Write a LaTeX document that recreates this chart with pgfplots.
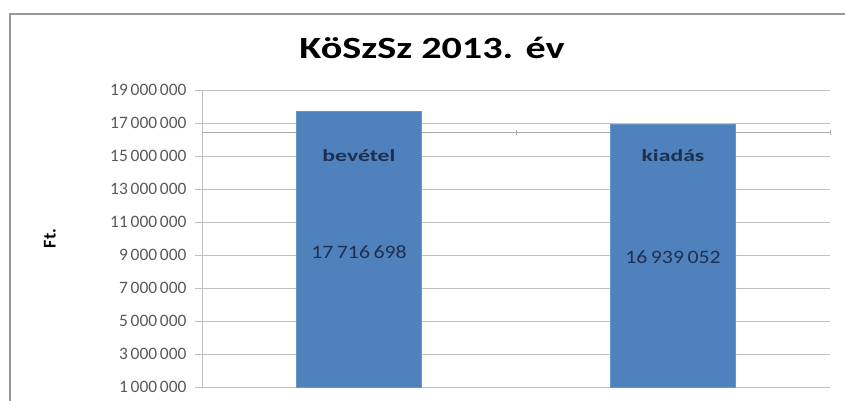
\documentclass[border=0pt]{standalone}
\usepackage{pgfplots}
\pgfplotsset{compat=1.18}
\usepackage{fontspec}
\setmainfont{Carlito}
\definecolor{barblue}{HTML}{4F81BD}
\definecolor{gridgray}{HTML}{BFBFBF}
\definecolor{ticktext}{HTML}{595959}
\definecolor{labelnavy}{HTML}{1F2F4F}
\begin{document}
\begin{tikzpicture}
\path[use as bounding box] (0bp,0bp) rectangle (845bp,-401bp);
% chart frame (cut off at right and bottom)
\draw[color=gray!80, line width=2bp] (10bp,-405bp) -- (10bp,-14bp) -- (850bp,-14bp);
\node[font=\bfseries\fontsize{31}{31}\selectfont] at (432bp,-48bp) {\scalebox{1.3}[1]{KöSzSz 2013. év}};
\begin{axis}[
    at={(202bp,-387bp)}, anchor=south west,
    scale only axis, width=628bp, height=297bp,
    xmin=-0.5, xmax=1.5,
    ymin=1000000, ymax=19000000,
    ytick={1000000,3000000,5000000,7000000,9000000,11000000,13000000,15000000,17000000,19000000},
    ybar, bar width=125bp,
    axis x line=none,
    axis y line*=left,
    y axis line style={draw=gridgray},
    ymajorgrids, grid style={draw=gridgray},
    tick align=outside, major tick length=7bp,
    y tick style={draw=gridgray},
    scaled y ticks=false,
    clip mode=individual,
    yticklabel style={font=\fontsize{17.5}{17.5}\selectfont, text=ticktext, xshift=-5bp},
    /pgf/number format/.cd, fixed, precision=0, 1000 sep={\hspace{0.16em}}, assume math mode=true,
    /pgfplots/.cd,
]
% stray category axis line, behind the bars
\addplot[sharp plot, draw=gray!65, update limits=false, forget plot, clip=false] coordinates {(-0.5,16450000) (1.5,16450000)};
\addplot[sharp plot, draw=gray!65, update limits=false, forget plot, clip=false] coordinates {(0.5,16600000) (0.5,16300000)};
\addplot[sharp plot, draw=gray!65, update limits=false, forget plot, clip=false] coordinates {(1.5,16600000) (1.5,16300000)};
\addplot[fill=barblue, draw=barblue!85!white] coordinates {
(0, 17716698) % bevetel
(1, 16939052) % kiadas
};
\node[font=\bfseries\fontsize{17}{17}\selectfont, text=labelnavy] at (axis cs:0,15000000) {\scalebox{1.4}[1]{bevétel}};
\node[font=\bfseries\fontsize{17}{17}\selectfont, text=labelnavy] at (axis cs:1,15000000) {\scalebox{1.4}[1]{kiadás}};
\node[font=\fontsize{19}{19}\selectfont, text=labelnavy] at (axis cs:0,9200000) {\scalebox{1.15}[1]{17\hspace{0.16em}716\hspace{0.16em}698}};
\node[font=\fontsize{19}{19}\selectfont, text=labelnavy] at (axis cs:1,8850000) {\scalebox{1.15}[1]{16\hspace{0.16em}939\hspace{0.16em}052}};
\node[font=\bfseries\fontsize{18}{18}\selectfont, rotate=90] at ([xshift=-152bp]axis cs:-0.5,10000000) {Ft.};
\end{axis}
\end{tikzpicture}
\end{document}
